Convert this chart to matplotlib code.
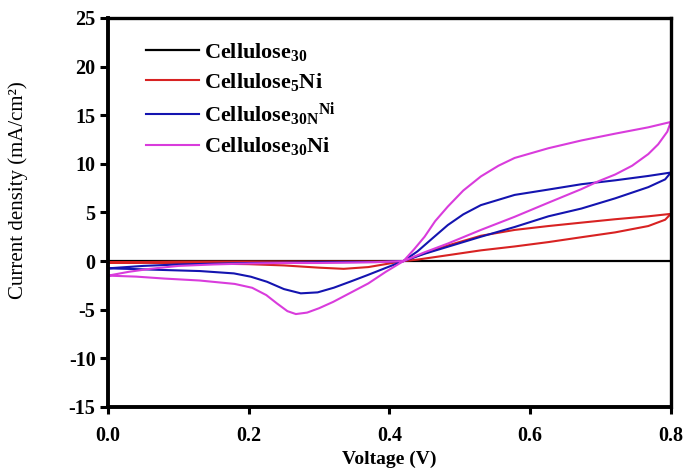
import numpy as np
import matplotlib
matplotlib.use("Agg")
import matplotlib.pyplot as plt

plt.rcParams['font.family'] = ['Liberation Serif', 'DejaVu Serif']
plt.rcParams['mathtext.fontset'] = 'custom'
plt.rcParams['mathtext.rm'] = 'Liberation Serif:bold'
plt.rcParams['mathtext.it'] = 'Liberation Serif:bold'
plt.rcParams['mathtext.bf'] = 'Liberation Serif:bold'
plt.rcParams['mathtext.default'] = 'rm'
plt.rcParams['axes.unicode_minus'] = False

# Cellulose30 (flat, no current)
v_c30 = [0.0, 0.2, 0.4, 0.6, 0.8]
i_c30 = [0.0, 0.0, 0.0, 0.0, 0.0]

# Cellulose5Ni: lower branch (0 -> 0.8) then upper branch (0.8 -> 0)
v_c5_lo = [0.0, 0.1, 0.2, 0.25, 0.3, 0.335, 0.37, 0.40, 0.42, 0.44, 0.483, 0.53,
           0.578, 0.626, 0.673, 0.721, 0.768, 0.792, 0.8]
i_c5_lo = [-0.15, -0.22, -0.32, -0.45, -0.68, -0.8, -0.62, -0.25, 0.0, 0.15, 0.6, 1.1,
           1.5, 1.95, 2.45, 2.95, 3.6, 4.25, 4.85]
v_c5_up = [0.8, 0.768, 0.721, 0.673, 0.626, 0.578, 0.53, 0.483, 0.45, 0.42, 0.38,
           0.3, 0.2, 0.1, 0.05, 0.0]
i_c5_up = [4.85, 4.6, 4.3, 3.95, 3.6, 3.2, 2.6, 1.6, 0.8, 0.0, -0.05,
           -0.05, -0.05, -0.06, -0.1, -0.15]

# Cellulose30N Ni
v_c30n_lo = [0.0, 0.036, 0.084, 0.131, 0.179, 0.203, 0.226, 0.25, 0.274, 0.298, 0.321,
             0.345, 0.369, 0.395, 0.42, 0.45, 0.483, 0.53, 0.578, 0.626, 0.673, 0.721,
             0.768, 0.792, 0.8]
i_c30n_lo = [-0.75, -0.82, -0.93, -1.03, -1.27, -1.61, -2.13, -2.88, -3.32, -3.22, -2.74,
             -2.1, -1.44, -0.7, 0.0, 0.75, 1.47, 2.5, 3.5, 4.6, 5.4, 6.45,
             7.6, 8.4, 9.1]
v_c30n_up = [0.8, 0.768, 0.721, 0.673, 0.626, 0.578, 0.53, 0.505, 0.483, 0.459, 0.44,
             0.42, 0.38, 0.3, 0.2, 0.1, 0.05, 0.0]
i_c30n_up = [9.1, 8.75, 8.3, 7.9, 7.35, 6.8, 5.75, 4.8, 3.7, 2.2, 1.0,
             0.0, -0.1, -0.12, -0.2, -0.35, -0.5, -0.75]

# Cellulose30Ni
v_c30ni_lo = [0.0, 0.04, 0.08, 0.13, 0.18, 0.205, 0.225, 0.24, 0.255, 0.267, 0.283, 0.30,
              0.32, 0.345, 0.37, 0.395, 0.42, 0.45, 0.483, 0.53, 0.578, 0.626, 0.673,
              0.697, 0.721, 0.745, 0.768, 0.782, 0.795, 0.8]
i_c30ni_lo = [-1.5, -1.6, -1.8, -2.0, -2.35, -2.75, -3.5, -4.35, -5.15, -5.45, -5.3, -4.85,
              -4.2, -3.25, -2.3, -1.1, 0.0, 0.9, 1.8, 3.2, 4.55, 6.0, 7.4,
              8.2, 8.9, 9.8, 11.0, 12.0, 13.3, 14.3]
v_c30ni_up = [0.8, 0.768, 0.721, 0.673, 0.626, 0.578, 0.555, 0.53, 0.505, 0.483, 0.465,
              0.45, 0.435, 0.42, 0.39, 0.35, 0.30, 0.25, 0.20, 0.15, 0.10, 0.06, 0.03, 0.0]
i_c30ni_up = [14.3, 13.75, 13.1, 12.4, 11.6, 10.6, 9.8, 8.7, 7.25, 5.6, 4.1,
              2.5, 1.2, 0.0, -0.1, -0.15, -0.2, -0.2, -0.25, -0.35, -0.5, -0.8, -1.1, -1.5]

labels = ['Cellulose$_{30}$', 'Cellulose$_5$Ni', 'Cellulose$_{30N}$$^{Ni}$',
          'Cellulose$_{30}$Ni']
colors = ['black', '#d82222', '#1414b0', '#d93cdc']

fig = plt.figure(figsize=(6.88, 4.71), dpi=100)
ax = fig.add_axes([0.157, 0.136, 0.818, 0.826])

ax.plot(v_c30, i_c30, color=colors[0], lw=1.6, label=labels[0])
ax.plot(v_c5_lo + v_c5_up, i_c5_lo + i_c5_up, color=colors[1], lw=1.5, label=labels[1])
ax.plot(v_c30n_lo + v_c30n_up, i_c30n_lo + i_c30n_up, color=colors[2], lw=1.5,
        label=labels[2])
ax.plot(v_c30ni_lo + v_c30ni_up, i_c30ni_lo + i_c30ni_up, color=colors[3], lw=1.5,
        label=labels[3])

ax.set_xlim(0, 0.8)
ax.set_ylim(-15, 25)
ax.set_xticks(np.arange(0, 0.81, 0.2))
ax.set_xticklabels(['0.0', '0.2', '0.4', '0.6', '0.8'])
ax.set_yticks(np.arange(-15, 26, 5))

for s in ax.spines.values():
    s.set_linewidth(2.4)
ax.spines['left'].set_linewidth(2.8)
ax.spines['bottom'].set_linewidth(2.8)
ax.tick_params(axis='both', direction='out', width=2.2, labelsize=14.5)
ax.tick_params(axis='y', length=6, pad=3)
ax.tick_params(axis='x', length=5, pad=9)
for t in ax.get_xticklabels() + ax.get_yticklabels():
    t.set_fontweight('bold')

ax.set_xlabel('Voltage (V)', fontsize=14, fontweight='bold')
ax.xaxis.set_label_coords(0.5, -0.113)
ax.set_ylabel('Current density (mA/cm²)', fontsize=15)
ax.yaxis.set_label_coords(-0.142, 0.558)

leg = ax.legend(loc='upper left', bbox_to_anchor=(0.0675, 0.94), frameon=False,
                fontsize=16, handlelength=2.4, handletextpad=0.2, labelspacing=0.34,
                borderaxespad=0, borderpad=0)
for t in leg.get_texts():
    t.set_fontweight('bold')

fig.savefig('out.png', dpi=100)
